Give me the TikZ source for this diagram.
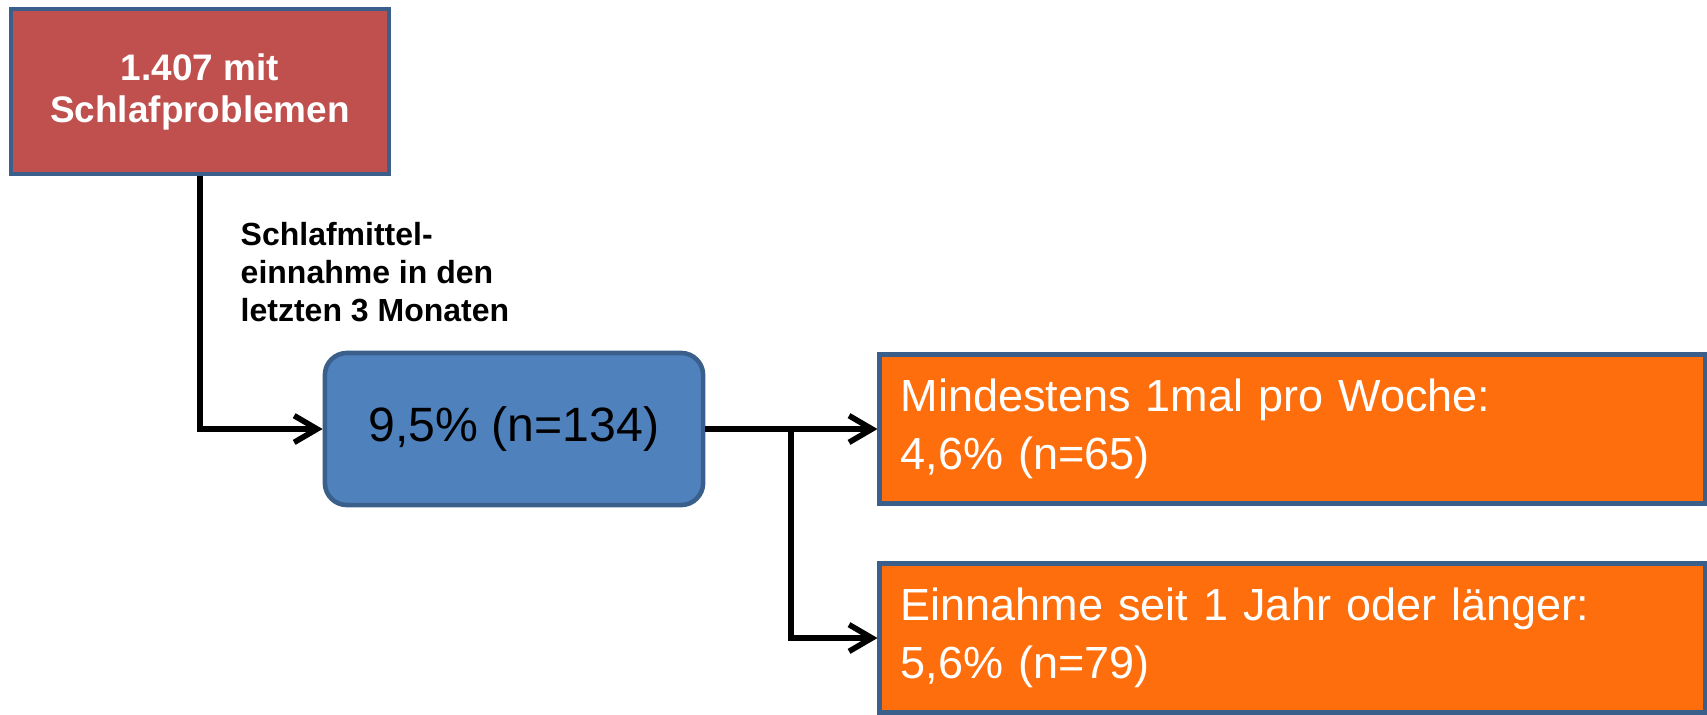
\documentclass[tikz,border=0pt]{standalone}
\usepackage{fontspec}
\setmainfont{Liberation Sans}
\usetikzlibrary{arrows.meta}
\definecolor{redfill}{HTML}{C0504D}
\definecolor{bluefill}{HTML}{4F81BD}
\definecolor{boxborder}{HTML}{3A5F8B}
\definecolor{orangefill}{HTML}{FF6E0C}
\begin{document}
\begin{tikzpicture}[x=0.01cm,y=-0.01cm,
  boxbase/.style={draw=boxborder,line width=1.3pt,inner sep=0pt},
  redbox/.style={boxbase,fill=redfill,minimum width=3.78cm,minimum height=1.65cm,
    text=white,align=center,font=\fontsize{10.5}{11.95}\selectfont\bfseries},
  bluebox/.style={boxbase,fill=bluefill,rounded corners=0.22cm,minimum width=3.78cm,minimum height=1.52cm,
    font=\fontsize{13.7}{16}\selectfont},
  orangebox/.style={boxbase,fill=orangefill,minimum width=8.25cm,minimum height=1.49cm,
    text=white,align=left,text width=7.83cm,inner xsep=0.21cm,
    font=\fontsize{12.8}{16.5}\selectfont},
  lbl/.style={align=left,inner sep=0pt,font=\fontsize{9.1}{10.8}\selectfont\bfseries},
  conn/.style={line width=1.6pt,black},
  arr/.style={conn,-{Straight Barb[length=6.5pt,width=7.6pt,line width=1.6pt]}}]
\useasboundingbox (0,0) rectangle (1707,714);
\node[redbox] (red) at (200,91.5) {1.407 mit\\Schlafproblemen};
\node[bluebox] (blue) at (514,429) {9,5\% (n=134)};
\node[orangebox] (o1) at (1292.5,429) {Mindestens 1mal pro Woche:\\4,6\% (n=65)};
\node[orangebox] (o2) at (1292.5,638) {Einnahme seit 1 Jahr oder länger:\\5,6\% (n=79)};
\node[lbl,anchor=west] (lab) at (240,272) {Schlafmittel-\\einnahme in den\\letzten 3 Monaten};
\coordinate (br) at (791,429);
\draw[arr] (red.south) |- (blue.west);
\draw[arr] (blue.east) -- (o1.west);
\draw[arr] (br) |- (o2.west);
\end{tikzpicture}
\end{document}
